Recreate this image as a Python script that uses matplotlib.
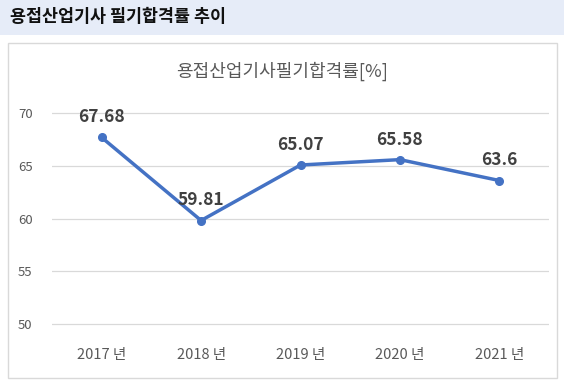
import matplotlib
matplotlib.use("Agg")
import matplotlib.pyplot as plt
from matplotlib.patches import Rectangle

plt.rcParams['font.family'] = ['Noto Sans CJK KR', 'DejaVu Sans']

years = ["2017 년", "2018 년", "2019 년", "2020 년", "2021 년"]
rates = [67.68, 59.81, 65.07, 65.58, 63.6]
labels = ["67.68", "59.81", "65.07", "65.58", "63.6"]
yticks = [50, 55, 60, 65, 70]

W, H = 564, 384
fig = plt.figure(figsize=(W / 100, H / 100), dpi=100)
fig.patch.set_facecolor("white")

# header band
fig.patches.append(Rectangle((0, 1 - 35 / H), 1, 35 / H, transform=fig.transFigure,
                             facecolor="#E6ECF8", edgecolor="none", zorder=-2))
fig.text(10 / W, 1 - 17 / H, "용접산업기사 필기합격률 추이", fontsize=12.5, fontweight="bold",
         color="#111111", ha="left", va="center")

# chart frame
fig.patches.append(Rectangle((8 / W, 1 - 378 / H), (557 - 8) / W, (378 - 43) / H,
                             transform=fig.transFigure, facecolor="white",
                             edgecolor="#D9D9D9", linewidth=1.0, zorder=-2))

fig.text(282 / W, 1 - 71 / H, "용접산업기사필기합격률[%]", fontsize=13, color="#595959",
         ha="center", va="center")

# axes: x from 52 to 549, y 50->324px, 70->113px
ax_left, ax_right = 52, 549
y50, y70 = 324, 113
ppu = (y50 - y70) / 20.0
bot_px = 327
ymin = 50 - (bot_px - y50) / ppu
ymax = 70 + (y70 - 100) / ppu
top_px = 100
ax = fig.add_axes([ax_left / W, 1 - bot_px / H, (ax_right - ax_left) / W, (bot_px - top_px) / H])
ax.set_facecolor("none")
ax.set_zorder(2)

x = list(range(len(years)))
ax.plot(x, rates, color="#4472C4", linewidth=2.5, marker="o", markersize=5.5, zorder=3,
        solid_capstyle="round")
for xi, v, lab in zip(x, rates, labels):
    ax.annotate(lab, (xi, v), xytext=(0, 8), textcoords="offset points", ha="center",
                va="bottom", fontsize=12.5, fontweight="bold", color="#404040")

ax.set_xlim(-0.5, len(years) - 0.5)
ax.set_ylim(ymin, ymax)
ax.set_yticks(yticks)
ax.set_yticklabels([str(t) for t in yticks], fontsize=9.5, color="#595959")
ax.set_xticks(x)
ax.set_xticklabels(years, fontsize=10.5, color="#595959")
ax.tick_params(axis="both", length=0)
ax.tick_params(axis="y", pad=14)
ax.tick_params(axis="x", pad=15)
ax.grid(axis="y", color="#D9D9D9", linewidth=0.9)
ax.set_axisbelow(True)
for s in ax.spines.values():
    s.set_visible(False)

fig.savefig("out.png", dpi=100, facecolor="white")
